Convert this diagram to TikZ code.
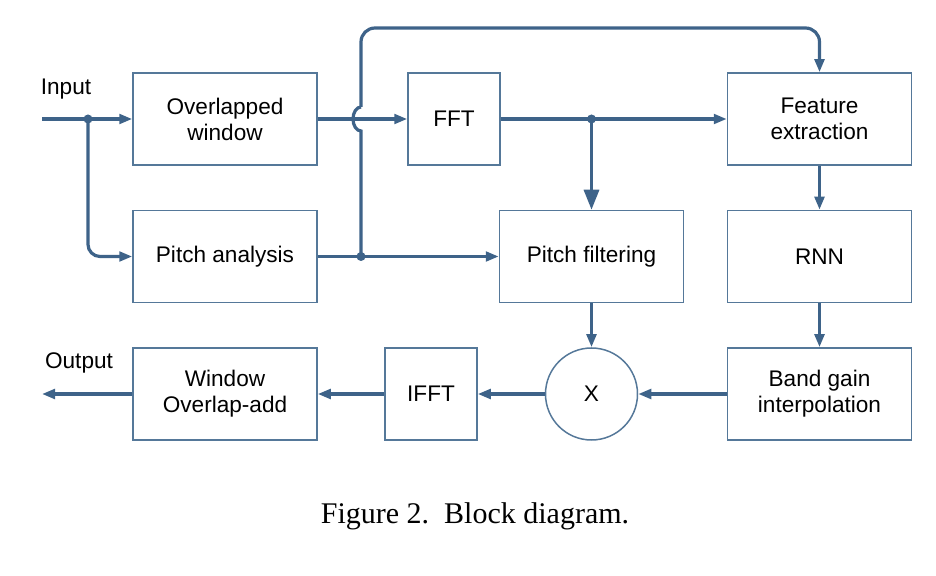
\documentclass[tikz,border=0pt]{standalone}
\usepackage{fontspec}
\setmainfont{Liberation Sans}
\newfontfamily\captionfont{Liberation Serif}
\usetikzlibrary{arrows.meta}
\definecolor{wire}{HTML}{3E6389}
\definecolor{edge}{HTML}{557899}
\tikzset{block/.style = {draw=edge, line width=0.75pt, minimum width=92pt,
                         minimum height=46pt, inner sep=0, align=center,
                         font=\fontsize{11.3}{13}\selectfont}}
\tikzset{sqblock/.style = {block, minimum width=46pt}}
\tikzset{line/.style = {draw=wire, line width=1.6pt,
                        -{Triangle[length=6.5pt, width=4.8pt]}}}
\tikzset{bigline/.style = {draw=wire, line width=1.6pt,
                           -{Triangle[length=10pt, width=7.5pt]}}}
\tikzset{wire/.style = {draw=wire, line width=1.6pt}}
\tikzset{junction/.style = {fill=wire, circle, inner sep=0, minimum size=4.5pt}}

\begin{document}
\begin{tikzpicture}[x=0.5pt, y=-0.5pt]
    \useasboundingbox (0, 0) rectangle (936, 576);
    \node [block] (ow) at (225, 119) {Overlapped\\window};
    \node [block] (pa) at (225, 256.5) {Pitch analysis};
    \node [sqblock] (fft) at (454, 119) {FFT};
    \node [block] (pf) at (591.5, 256.5) {Pitch filtering};
    \node [block] (fe) at (819.5, 119) {Feature\\extraction};
    \node [block] (rnn) at (819.5, 256.5) {RNN};
    \node [block] (bg) at (819.5, 394) {Band gain\\interpolation};
    \node [block, circle, minimum size=46pt] (mul) at (591.5, 394) {X};
    \node [sqblock] (ifft) at (431, 394) {IFFT};
    \node [block] (wola) at (225, 394) {Window\\Overlap-add};
    \node [font=\fontsize{11.3}{13}\selectfont] at (66, 89) {Input};
    \node [font=\fontsize{11.3}{13}\selectfont] at (79, 363) {Output};
    \coordinate (in) at (42, 119);
    \coordinate (out) at (42, 394);
    \coordinate (hopb) at (361, 131);
    \coordinate (hopt) at (361, 107);
    \node [junction] (j1) at (88, 119) {};
    \node [junction] (j2) at (361, 256.5) {};
    \node [junction] (j3) at (591.5, 119) {};
    \draw [line] (in) -- (ow);
    \draw [line, rounded corners=6pt] (j1.center) |- (pa);
    \draw [line] (pa) -- (pf);
    \draw [line] (ow) -- (fft);
    \draw [wire] (j2.center) -- (hopb)
                 arc [start angle=90, end angle=270, x radius=8, y radius=12];
    \draw [line, rounded corners=7pt] (hopt) -- (361, 28) -| (fe);
    \draw [line] (fft) -- (fe);
    \draw [bigline] (j3.center) -- (pf);
    \draw [line] (fe) -- (rnn);
    \draw [line] (rnn) -- (bg);
    \draw [line] (pf) -- (mul);
    \draw [line] (bg) -- (mul);
    \draw [line] (mul) -- (ifft);
    \draw [line] (ifft) -- (wola);
    \draw [line] (wola) -- (out);
    \node [font=\captionfont\fontsize{15}{18}\selectfont] (cap) at (475, 516)
          {Figure 2.\ \ Block diagram.};
\end{tikzpicture}
\end{document}
